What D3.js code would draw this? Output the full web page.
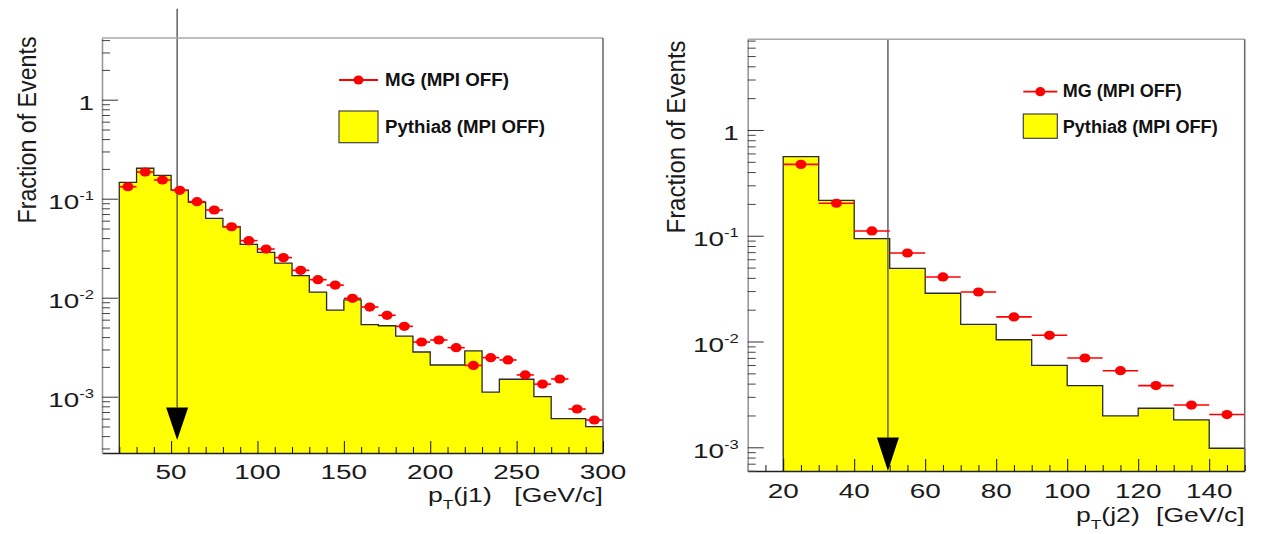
<!DOCTYPE html>
<html><head><meta charset="utf-8">
<script src="https://cdn.jsdelivr.net/npm/d3@7"></script>
<style>
body{margin:0;background:#fff}
svg{display:block}
text{font-family:"Liberation Sans",Arial,Helvetica,sans-serif}
</style>
</head><body>
<svg id="chart" width="1261" height="534"></svg>
<script>
// ---------------- DATA ----------------
const j1Edges = [20,30,40,50,60,70,80,90,100,110,120,130,140,150,160,170,180,190,200,210,220,230,240,250,260,270,280,290,300];
const pythiaJ1 = [0.146,0.203,0.172,0.122,0.092,0.0634,0.0521,0.0346,0.0287,0.0223,0.0167,0.0114,0.0075,0.0095,
                  0.00534,0.00521,0.0041,0.00283,0.00209,0.00209,0.0029,0.00111,0.0015,0.0015,0.001,0.0006,0.0006,0.000498];
const mgJ1 = [0.132,0.186,0.1545,0.1216,0.0933,0.0769,0.0521,0.0377,0.031,0.0254,0.0189,0.0152,0.0134,0.00986,
              0.00805,0.00664,0.00514,0.00357,0.00374,0.00313,0.00207,0.00248,0.00235,0.00166,0.00134,0.00151,0.000751,0.000582];

const j2Edges = [20,30,40,50,60,70,80,90,100,110,120,130,140,150];
const pythiaJ2 = [0.56,0.216,0.0939,0.0492,0.0286,0.01455,0.0104,0.00596,0.00383,0.00198,0.00234,0.00182,0.00098];
const mgJ2 = [0.473,0.203,0.111,0.0687,0.0408,0.0294,0.0171,0.01145,0.00699,0.0053,0.00383,0.00251,0.00204];

const xMajorJ1 = [50,100,150,200,250,300];
const xMajorJ2 = [20,40,60,80,100,120,140];
const yMajor = [1,0.1,0.01,0.001];
const yLabelBase = ["1","10","10","10"];
const yLabelExp = ["","-1","-2","-3"];
const legendLabels = ["MG (MPI OFF)","Pythia8 (MPI OFF)"];
const yTitle = "Fraction of Events";
const xTitleJ1 = ["p","T","(j1)","[GeV/c]"];
const xTitleJ2 = ["p","T","(j2)","[GeV/c]"];
const cutJ1 = 53.5;
const cutJ2 = 49.5;

// ---------------- LAYOUT ----------------
const panels = [
  {edges:j1Edges, pythia:pythiaJ1, mg:mgJ1, xMajor:xMajorJ1, xMinorStep:10, xTitle:xTitleJ1, cut:cutJ1,
   xDomain:[10,300], yDomain:[2.7e-4,4.2],
   L:102, R:603, T:38, B:453,
   arrow:{top:8.3, head:7.8e-4, tip:3.65e-4},
   yLabGap:8, xLabBase:26, titleX:36, titleCY:130, titleLen:187,
   xtP:428, xtBase:502,
   legLine:{x0:339,x1:378,y:80}, legText1:{x:385,y:86,len:124},
   legBox:{x0:339,x1:378,y0:111,y1:142.7}, legText2:{x:385,y:132.5,len:160}},
  {edges:j2Edges, pythia:pythiaJ2, mg:mgJ2, xMajor:xMajorJ2, xMinorStep:5, xTitle:xTitleJ2, cut:cutJ2,
   xDomain:[10,150], yDomain:[5.97e-4,7.2],
   L:747.7, R:1244.7, T:39.3, B:471,
   arrow:{top:7.2, head:1.24e-3, tip:5.97e-4},
   yLabGap:9, xLabBase:27, titleX:685, titleCY:137, titleLen:193,
   xtP:1076, xtBase:522,
   legLine:{x0:1023.3,x1:1057.3,y:91.7}, legText1:{x:1062.7,y:97.3,len:119},
   legBox:{x0:1023.3,x1:1057.3,y0:114,y1:138.3}, legText2:{x:1062.7,y:132.7,len:155}}
];

const SX = 1.33; // horizontal stretch of the original rendering
const svg = d3.select("#chart");

function drawPanel(p){
  const g = svg.append("g");
  const x = d3.scaleLinear().domain(p.xDomain).range([p.L,p.R]);
  const y = d3.scaleLog().domain(p.yDomain).range([p.B,p.T]);

  // histogram (Pythia8)
  const pts = p.pythia.map((v,i)=>({x:p.edges[i], v}));
  pts.push({x:p.edges[p.edges.length-1], v:p.pythia[p.pythia.length-1]});
  const area = d3.area().x(d=>x(d.x)).y0(p.B).y1(d=>y(d.v)).curve(d3.curveStepAfter);
  g.append("path").attr("d", area(pts)).attr("fill","#ffff00").attr("stroke","none");
  const outline = [{x:p.edges[0], v:p.yDomain[0]}].concat(pts).concat([{x:p.edges[p.edges.length-1], v:p.yDomain[0]}]);
  const line = d3.line().x(d=>x(d.x)).y(d=>y(d.v)).curve(d3.curveStepAfter);
  g.append("path").attr("d", line(outline)).attr("fill","none").attr("stroke","#2a2a2a").attr("stroke-width",1.3);

  // cut arrow
  g.append("line").attr("x1",x(p.cut)).attr("x2",x(p.cut))
    .attr("y1",y(p.arrow.top)).attr("y2",y(p.arrow.head))
    .attr("stroke","#555").attr("stroke-width",1.4);
  const hy = y(p.arrow.head), ty = y(p.arrow.tip), cx = x(p.cut);
  g.append("path").attr("d",`M${cx-11},${hy}L${cx+11},${hy}L${cx},${ty}Z`).attr("fill","#000");

  // MG points with horizontal error bars
  const mg = p.mg.map((v,i)=>({x0:p.edges[i], x1:p.edges[i+1], v}));
  g.selectAll(".eb").data(mg).join("line")
    .attr("x1",d=>x(d.x0)).attr("x2",d=>x(d.x1))
    .attr("y1",d=>y(d.v)).attr("y2",d=>y(d.v))
    .attr("stroke","#ff0000").attr("stroke-width",1.6);
  g.selectAll(".pt").data(mg).join("ellipse")
    .attr("cx",d=>x((d.x0+d.x1)/2)).attr("cy",d=>y(d.v))
    .attr("rx",5.5).attr("ry",4.6).attr("fill","#ff0000");

  // frame top/right
  g.append("line").attr("x1",p.L).attr("x2",p.R).attr("y1",p.T).attr("y2",p.T).attr("stroke","#a8a8a8").attr("stroke-width",1.5);
  g.append("line").attr("x1",p.R).attr("x2",p.R).attr("y1",p.T).attr("y2",p.B).attr("stroke","#666").attr("stroke-width",1.5);

  // x axis
  const xMinor = d3.range(p.xDomain[0], p.xDomain[1]+0.001, p.xMinorStep).filter(v=>!p.xMajor.includes(v));
  const xa = g.append("g").attr("transform",`translate(0,${p.B})`)
    .call(d3.axisBottom(x).tickValues(p.xMajor).tickSize(-12).tickSizeOuter(0).tickFormat(""));
  const xm = g.append("g").attr("transform",`translate(0,${p.B})`)
    .call(d3.axisBottom(x).tickValues(xMinor).tickSize(-6).tickSizeOuter(0).tickFormat(""));
  xm.select(".domain").remove();
  xa.select(".domain").attr("stroke","#222").attr("stroke-width",1.6);
  g.selectAll(".tick line").attr("stroke","#111");

  // y axis
  const yMinor = [];
  for(let e=-5;e<=1;e++) for(let k=2;k<=9;k++){const v=k*Math.pow(10,e); if(v>=p.yDomain[0]&&v<=p.yDomain[1]) yMinor.push(v);}
  const ya = g.append("g").attr("transform",`translate(${p.L},0)`)
    .call(d3.axisLeft(y).tickValues(yMajor).tickSize(-16).tickSizeOuter(0).tickFormat(""));
  const ym = g.append("g").attr("transform",`translate(${p.L},0)`)
    .call(d3.axisLeft(y).tickValues(yMinor).tickSize(-8).tickSizeOuter(0).tickFormat(""));
  ym.select(".domain").remove();
  ya.select(".domain").attr("stroke","#999").attr("stroke-width",1.6);
  ya.selectAll(".tick line").attr("stroke","#333");
  ym.selectAll(".tick line").attr("stroke","#444");

  // x tick labels
  g.selectAll(".xl").data(p.xMajor).join("text")
    .attr("transform",d=>`translate(${x(d)},${p.B+p.xLabBase}) scale(${SX},1)`)
    .attr("text-anchor","middle").attr("font-size",21).attr("fill","#1a1a1a")
    .text(d=>d);

  // y tick labels
  yMajor.forEach((v,i)=>{
    const t = g.append("text")
      .attr("transform",`translate(${p.L-p.yLabGap},${y(v)+10.5}) scale(${SX},1)`)
      .attr("text-anchor","end").attr("font-size",21).attr("fill","#1a1a1a");
    t.append("tspan").text(yLabelBase[i]);
    if(yLabelExp[i]) t.append("tspan").attr("dy",-9).attr("font-size",12.5).text(yLabelExp[i]);
  });

  // y title
  g.append("text")
    .attr("transform",`translate(${p.titleX},${p.titleCY}) scale(${SX},1) rotate(-90)`)
    .attr("text-anchor","middle").attr("font-size",19.5).attr("fill","#1a1a1a")
    .attr("textLength",p.titleLen).attr("lengthAdjust","spacingAndGlyphs")
    .text(yTitle);

  // x title
  const xt = g.append("text")
    .attr("transform",`translate(${p.xtP},${p.xtBase}) scale(${SX},1)`)
    .attr("font-size",20).attr("fill","#1a1a1a");
  xt.append("tspan").text(p.xTitle[0]);
  xt.append("tspan").attr("dy",7).attr("font-size",13).text(p.xTitle[1]);
  xt.append("tspan").attr("dy",-7).text(p.xTitle[2]);
  g.append("text")
    .attr("transform",`translate(${p.R},${p.xtBase}) scale(${SX},1)`)
    .attr("text-anchor","end").attr("font-size",20).attr("fill","#1a1a1a")
    .text(p.xTitle[3]);

  // legend
  const lg = g.append("g");
  lg.append("line").attr("x1",p.legLine.x0).attr("x2",p.legLine.x1).attr("y1",p.legLine.y).attr("y2",p.legLine.y)
    .attr("stroke","#ff0000").attr("stroke-width",1.8);
  lg.append("ellipse").attr("cx",(p.legLine.x0+p.legLine.x1)/2).attr("cy",p.legLine.y).attr("rx",5).attr("ry",4.6).attr("fill","#ff0000");
  lg.append("text").attr("x",p.legText1.x).attr("y",p.legText1.y)
    .attr("font-size",17.5).attr("font-weight","bold").attr("fill","#111")
    .attr("textLength",p.legText1.len).attr("lengthAdjust","spacingAndGlyphs").text(legendLabels[0]);
  lg.append("rect").attr("x",p.legBox.x0).attr("y",p.legBox.y0)
    .attr("width",p.legBox.x1-p.legBox.x0).attr("height",p.legBox.y1-p.legBox.y0)
    .attr("fill","#ffff00").attr("stroke","#444").attr("stroke-width",1.2);
  lg.append("text").attr("x",p.legText2.x).attr("y",p.legText2.y)
    .attr("font-size",17.5).attr("font-weight","bold").attr("fill","#111")
    .attr("textLength",p.legText2.len).attr("lengthAdjust","spacingAndGlyphs").text(legendLabels[1]);
}

panels.forEach(drawPanel);
</script>
</body></html>
